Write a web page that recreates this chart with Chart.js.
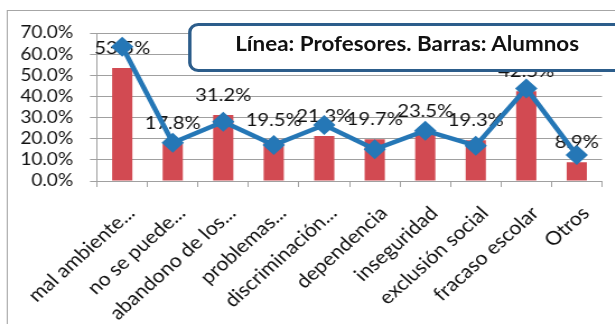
<!DOCTYPE html>
<html>
<head>
<meta charset="utf-8">
<script src="https://cdn.jsdelivr.net/npm/chart.js@4.4.1/dist/chart.umd.min.js"></script>
<style>
  html, body { margin: 0; padding: 0; background: #fff; overflow: hidden; }
  #wrap { position: relative; width: 549px; height: 324px; transform: scaleX(1.12); transform-origin: 0 0; }
  #frame { position: absolute; left: 6.25px; top: 10px; width: 600px; height: 400px; border: 1px solid #a6a6a6; }
  #chart { position: absolute; left: 0; top: 0; }
  #titleBox { position: absolute; left: 168px; top: 23px; width: 500px; height: 43px;
    border: 3px solid #2c5d8b; border-radius: 9px; background: #fff; }
  #titleText { position: absolute; left: 0; top: 5px; width: 385px; height: 40px; line-height: 40px;
    text-align: center; font: bold 20px Lato; color: #111; white-space: nowrap; }
</style>
</head>
<body>
<div id="wrap">
  <div id="frame"></div>
  <canvas id="chart" width="549" height="324"></canvas>
  <div id="titleBox"><div id="titleText">Línea: Profesores. Barras: Alumnos</div></div>
</div>
<script>
const categorias = ['mal ambiente...', 'no se puede...', 'abandono de los...', 'problemas...',
  'discriminación...', 'dependencia', 'inseguridad', 'exclusión social', 'fracaso escolar', 'Otros'];
const alumnos = [53.5, 17.8, 31.2, 19.5, 21.3, 19.7, 23.5, 19.3, 42.5, 8.9];
const profesores = [63.5, 18.1, 28.0, 17.0, 26.5, 15.0, 23.8, 16.7, 43.8, 12.3];
const yTicks = [0, 10, 20, 30, 40, 50, 60, 70];

Chart.defaults.font.family = 'Lato';
Chart.defaults.font.size = 18;
Chart.defaults.color = '#111';

// value labels above each bar, drawn before the line so the markers sit on top
const barLabels = {
  id: 'barLabels',
  afterDatasetDraw(chart, args) {
    if (args.index !== 1) return;
    const ctx = chart.ctx;
    ctx.save();
    ctx.font = '18px Lato';
    ctx.fillStyle = '#111';
    ctx.textAlign = 'center';
    ctx.textBaseline = 'middle';
    args.meta.data.forEach((bar, i) => {
      ctx.fillText(alumnos[i].toFixed(1) + '%', bar.x, bar.y - 20);
    });
    ctx.restore();
  }
};

const ctx = document.getElementById('chart').getContext('2d');

new Chart(ctx, {
  type: 'bar',
  data: {
    labels: categorias,
    datasets: [{
      type: 'line',
      label: 'Profesores',
      data: profesores,
      order: 0,
      borderColor: '#2577b6',
      backgroundColor: '#2577b6',
      borderWidth: 4.5,
      tension: 0,
      pointStyle: 'rectRot',
      pointRadius: 10,
      pointBorderWidth: 0,
      pointBackgroundColor: '#2577b6'
    }, {
      label: 'Alumnos',
      data: alumnos,
      order: 1,
      backgroundColor: '#d24a52',
      categoryPercentage: 1,
      barPercentage: 0.4
    }]
  },
  options: {
    responsive: false,
    animation: false,
    layout: { padding: { left: 0, top: 33, right: 11.5, bottom: 0 } },
    plugins: {
      legend: { display: false },
      tooltip: { enabled: false }
    },
    scales: {
      x: {
        afterFit(scale) { scale.height = 143; },
        grid: { drawOnChartArea: false, drawTicks: true, tickLength: 6, color: '#a0a0a0' },
        border: { color: '#a0a0a0' },
        ticks: {
          autoSkip: false, minRotation: 45, maxRotation: 45,
          padding: 15, labelOffset: 8, color: '#111', font: { size: 19 }
        }
      },
      y: {
        min: 0,
        max: 70,
        afterFit(scale) { scale.width = 86.6; },
        afterBuildTicks(scale) { scale.ticks = yTicks.map(v => ({ value: v })); },
        grid: { color: '#a0a0a0', tickLength: 6.25 },
        border: { color: '#a0a0a0' },
        ticks: {
          autoSkip: false,
          padding: 15,
          color: '#111',
          font: { size: 17 },
          callback: v => v.toFixed(1) + '%'
        }
      }
    }
  },
  plugins: [barLabels]
});
</script>
</body>
</html>
